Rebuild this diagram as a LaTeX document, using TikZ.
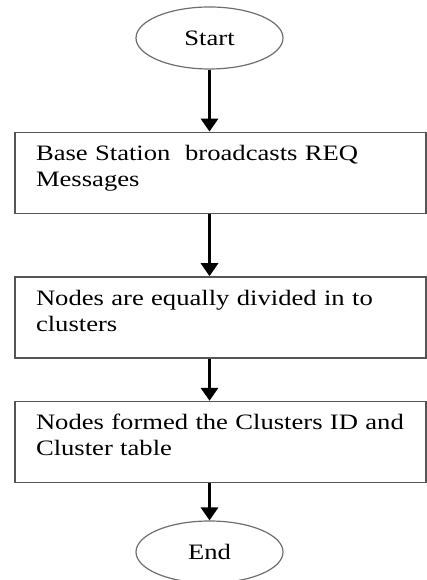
\documentclass[tikz,border=0pt]{standalone}
\usepackage{fontspec}
\setmainfont{Liberation Serif}[FakeStretch=1.21]
\usepackage{xcolor}
\usetikzlibrary{positioning}
\usetikzlibrary{arrows.meta}
\usetikzlibrary{shapes.geometric}

\definecolor{boxline}{HTML}{555555}
\definecolor{ovalline}{HTML}{6E6E6E}

\tikzset{
  terminal/.style={ellipse, draw=ovalline, line width=1.2pt, minimum width=147pt,
    minimum height=62pt, inner sep=0pt, font=\fontsize{22}{26}\selectfont},
  process/.style={rectangle, draw=boxline, line width=1.6pt, minimum width=411pt,
    minimum height=81pt, inner xsep=21pt, text width=369pt, text depth=40pt,
    align=left, font=\fontsize{22}{26}\selectfont},
  flow/.style={line width=3.2pt, -{Triangle[width=17pt,length=13pt]}}
}

\begin{document}
\begin{tikzpicture}
  \useasboundingbox (0,0) rectangle (427pt,580pt);

  % Define nodes
  \node[terminal] (start) at (209.5pt,542pt) {Start};
  \node[process, below=62pt of start, xshift=11pt] (broadcast) {Base Station\ \ broadcasts REQ\\ Messages};
  \node[process, below=62pt of broadcast] (divide) {Nodes are equally divided in to\\ clusters};
  \node[process, below=42pt of divide] (clusterid) {Nodes formed the Clusters ID and\\ Cluster table};
  \node[terminal, below=37pt of clusterid, xshift=-11pt] (end) {End};

  % Connect nodes
  \draw[flow] (start.south) -- (start |- broadcast.north);
  \draw[flow] (start |- broadcast.south) -- (start |- divide.north);
  \draw[flow] (start |- divide.south) -- (start |- clusterid.north);
  \draw[flow] (start |- clusterid.south) -- (end.north);

\end{tikzpicture}
\end{document}
